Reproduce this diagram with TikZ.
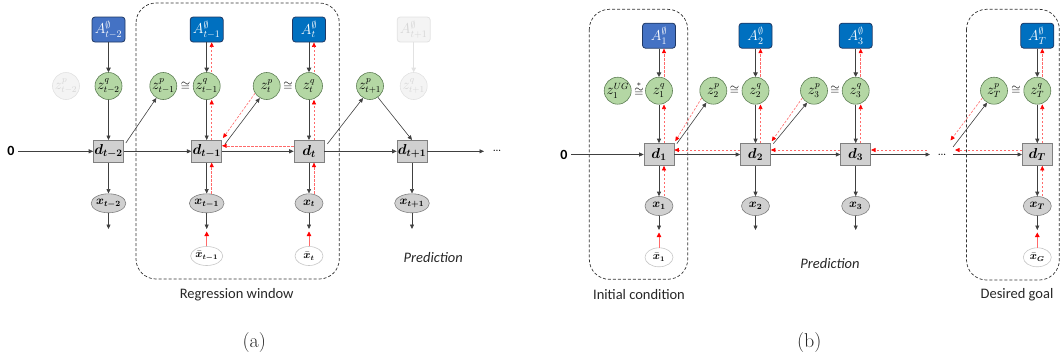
\documentclass[tikz,border=0pt]{standalone}
\usepackage{amsmath,amssymb}
\usepackage{bm}
\usepackage{fontspec}
\newfontfamily\carl{Carlito}
\usetikzlibrary{arrows.meta,shapes.geometric,calc}
\definecolor{ablue}{HTML}{0070C0}
\definecolor{ablueL}{HTML}{4472C4}
\definecolor{aborder}{HTML}{1F3864}
\definecolor{zgreen}{HTML}{B4D7A4}
\definecolor{zborder}{HTML}{5E7F55}
\definecolor{dfill}{HTML}{D0D0D0}
\definecolor{lnk}{HTML}{404040}
\definecolor{fadefill}{HTML}{F4F4F4}
\definecolor{fadeline}{HTML}{E2E2E2}
\definecolor{fadetext}{HTML}{D6D6D6}
\definecolor{redl}{HTML}{FF6A6A}
\begin{document}
\begin{tikzpicture}[x=1pt,y=-1pt,
 abox/.style={rectangle,rounded corners=3pt,minimum width=33pt,minimum height=25pt,inner sep=0pt,draw=aborder,line width=0.8pt,fill=ablue,text=white,font=\fontsize{14.5}{16}\selectfont},
 aboxL/.style={abox,fill=ablueL},
 zc/.style={circle,minimum size=27pt,inner sep=0pt,fill=zgreen,draw=zborder,line width=0.6pt,font=\fontsize{13.5}{15}\selectfont},
 dbox/.style={rectangle,minimum width=30pt,minimum height=22pt,inner sep=0pt,fill=dfill,draw=gray,line width=0.6pt,font=\fontsize{14.5}{16}\selectfont},
 xel/.style={ellipse,minimum width=28pt,minimum height=19pt,inner sep=0pt,fill=dfill,draw=gray,line width=0.6pt,font=\fontsize{11.5}{13}\selectfont},
 xbar/.style={ellipse,minimum width=28pt,minimum height=19pt,inner sep=0pt,fill=white,draw=black!22,line width=0.6pt,font=\fontsize{10.5}{12}\selectfont},
 fadeA/.style={abox,fill=fadefill,draw=fadeline,text=fadetext},
 fadeZ/.style={zc,fill=fadefill,draw=fadeline,text=fadetext},
 eqs/.style={inner sep=0pt,font=\fontsize{12}{14}\selectfont},
 blk/.style={draw=lnk,line width=0.6pt,-{Triangle[length=4.5pt,width=4pt]}},
 blkA/.style={draw=lnk,line width=0.9pt,-{Triangle[length=4.5pt,width=4.5pt]}},
 fadearr/.style={draw=fadeline,line width=0.9pt,-{Triangle[length=4.5pt,width=4.5pt]}},
 rd/.style={draw=redl,line width=0.6pt,dash pattern=on 2.5pt off 1.5pt,-{Triangle[length=4.5pt,width=4pt,fill=red,color=red]}},
 rs/.style={draw=redl,line width=0.8pt,-{Triangle[length=4.5pt,width=4.5pt,fill=red,color=red]}},
 win/.style={draw=black!80,line width=0.7pt,dash pattern=on 3pt off 2pt,rounded corners=20pt},
 lbl/.style={font=\carl\fontsize{14.5}{16}\selectfont,text=black!85},
 lbli/.style={font=\carl\itshape\fontsize{14.5}{16}\selectfont,text=black!85},
 captxt/.style={font=\fontsize{20}{23}\selectfont,text=black!85},
 zero/.style={font=\carl\bfseries\fontsize{14}{16}\selectfont},
 dots/.style={font=\fontsize{16}{18}\selectfont,inner sep=1pt}
]
\useasboundingbox (0,0) rectangle (1061,360);

% ---------------- panel (a) ----------------
\draw[win] (136,3) rectangle (339.3,279);

\node[aboxL] (Atm2) at (108.5,29.5) {$A^{\emptyset}_{t-2}$};
\node[abox] (Atm1) at (206.7,29.5) {$A^{\emptyset}_{t-1}$};
\node[abox] (At) at (309,29.5) {$A^{\emptyset}_{t}$};
\node[fadeA] (At1) at (413.7,29.5) {$A^{\emptyset}_{t+1}$};

\node[fadeZ] (zptm2) at (66,86) {$z^{p}_{t-2}$};
\node[zc] (zqtm2) at (108.5,86) {$z^{q}_{t-2}$};
\node[zc] (zptm1) at (163.3,86) {$z^{p}_{t-1}$};
\node[eqs] (eqa1) at (185.5,86) {$\cong$};
\node[zc] (zqtm1) at (206.7,86) {$z^{q}_{t-1}$};
\node[zc] (zpt) at (266.7,86) {$z^{p}_{t}$};
\node[eqs] (eqa2) at (288,86) {$\cong$};
\node[zc] (zqt) at (309,86) {$z^{q}_{t}$};
\node[zc] (zpt1) at (370,86) {$z^{p}_{t+1}$};
\node[fadeZ] (zqt1) at (413.7,86) {$z^{q}_{t+1}$};

\node[zero] (zeroa) at (11,151.3) {0};
\node[dbox] (dtm2) at (108.5,151.3) {$\bm{d_{t-2}}$};
\node[dbox] (dtm1) at (206.7,151.3) {$\bm{d_{t-1}}$};
\node[dbox] (dt) at (309,151.3) {$\bm{d_{t}}$};
\node[dbox] (dt1) at (412,151.3) {$\bm{d_{t+1}}$};
\coordinate (ea) at (484,151.3);
\node[dots] (dotsa) at (497,151) {\dots};

\node[xel] (xtm2) at (108.5,203.3) {$\bm{x_{t-2}}$};
\node[xel] (xtm1) at (206.7,203.3) {$\bm{x_{t-1}}$};
\node[xel] (xt) at (309,203.3) {$\bm{x_{t}}$};
\node[xel] (xt1) at (412,203.3) {$\bm{x_{t+1}}$};
\coordinate (otm2) at (108.5,229);
\coordinate (otm1) at (206.7,229);
\coordinate (ot) at (309,229);
\coordinate (ot1) at (412,229);
\node[xbar] (xbtm1) at (206.7,256) {$\bm{\bar{x}_{t-1}}$};
\node[xbar] (xbt) at (309,256) {$\bm{\bar{x}_{t}}$};
\coordinate (itm1) at (206.7,231.5);
\coordinate (it) at (309,231.5);

% vertical links (a)
\draw[blkA] (Atm2) -- (zqtm2);
\draw[blk] (zqtm2) -- (dtm2);
\draw[blk] (dtm2) -- (xtm2);
\draw[blk] (xtm2) -- (otm2);
\draw[fadearr] (At1) -- (zqt1);
\foreach \n in {tm1,t}{
  \draw[blkA] (A\n) -- (zq\n);
  \draw[rd] ([xshift=5pt]zq\n.north) -- ([xshift=5pt]A\n.south);
  \draw[blk] (zq\n) -- (d\n);
  \draw[rd] ([xshift=5pt]d\n.north) -- ([xshift=5pt]zq\n.south);
  \draw[blk] (d\n) -- (x\n);
  \draw[rd] ([xshift=5pt]x\n.north) -- ([xshift=5pt]d\n.south);
  \draw[blk] (x\n) -- (o\n);
  \draw[rs] (xb\n) -- (i\n);
}
\draw[blk] (dt1) -- (xt1);
\draw[blk] (xt1) -- (ot1);
% horizontal (a)
\draw[blk] (zeroa) -- (dtm2);
\draw[blk] (dtm2) -- (dtm1);
\draw[blk] (dtm1) -- (dt);
\draw[blk] (dt) -- (dt1);
\draw[blk] (dt1) -- (ea);
\draw[rd] ([yshift=5.5pt]dt.west) -- ([yshift=5.5pt]dtm1.east);
% diagonals (a)
\draw[blk] ($(dtm2.north east)+(2,3)$) -- (zptm1.240);
\draw[blk] ($(dtm1.north east)+(3,4)$) -- (zpt.240);
\draw[rd] (zpt.212) -- ($(dtm1.north east)+(1,-2)$);
\draw[blk] ($(dt.north east)+(3,4)$) -- (zpt1.240);
\draw[blk] (zpt1.-55) -- (dt1.north);

\node[lbl] (rwin) at (236.7,295) {Regression window};
\node[lbli] (preda) at (433.3,257.3) {Prediction};
\node[captxt] (capa) at (254.3,343) {(a)};

% ---------------- panel (b) ----------------
\draw[win] (589.3,9.3) rectangle (687.7,279.3);
\draw[win] (966.5,9.3) rectangle (1059.3,280);

\node[aboxL] (A1) at (659,35.7) {$A^{\emptyset}_{1}$};
\node[abox] (A2) at (755.5,35.7) {$A^{\emptyset}_{2}$};
\node[abox] (A3) at (855.7,35.7) {$A^{\emptyset}_{3}$};
\node[abox] (AT) at (1037.3,35.7) {$A^{\emptyset}_{T}$};

\node[zc] (zug1) at (617.7,90.7) {$z^{UG}_{1}$};
\node[eqs] (eqb1) at (639,89) {$\stackrel{*}{\cong}$};
\node[zc] (zq1) at (659,90.7) {$z^{q}_{1}$};
\node[zc] (zp2) at (713.3,90.7) {$z^{p}_{2}$};
\node[eqs] (eqb2) at (734.5,90.7) {$\cong$};
\node[zc] (zq2) at (755.5,90.7) {$z^{q}_{2}$};
\node[zc] (zp3) at (814,90.7) {$z^{p}_{3}$};
\node[eqs] (eqb3) at (835,90.7) {$\cong$};
\node[zc] (zq3) at (855.7,90.7) {$z^{q}_{3}$};
\node[zc] (zpT) at (994,90.7) {$z^{p}_{T}$};
\node[eqs] (eqb4) at (1016,90.7) {$\cong$};
\node[zc] (zqT) at (1037.3,90.7) {$z^{q}_{T}$};

\node[zero] (zerob) at (564,154.5) {0};
\node[dbox] (d1) at (659,154.5) {$\bm{d_{1}}$};
\node[dbox] (d2) at (755.5,154.5) {$\bm{d_{2}}$};
\node[dbox] (d3) at (855.7,154.5) {$\bm{d_{3}}$};
\node[dbox] (dT) at (1037.3,154.5) {$\bm{d_{T}}$};
\coordinate (eb) at (930,154.5);
\node[dots] (dotsb) at (942,154.5) {\dots};
\coordinate (sb) at (953,154.5);
\coordinate (rb1) at (927,150);
\coordinate (rb2) at (955,150);
\coordinate (bT) at (953,147);
\coordinate (rT) at (950.5,140.5);

\node[xel] (x1) at (659,206) {$\bm{x_{1}}$};
\node[xel] (x2) at (755.5,206) {$\bm{x_{2}}$};
\node[xel] (x3) at (855.7,206) {$\bm{x_{3}}$};
\node[xel] (xT) at (1037.3,206) {$\bm{x_{T}}$};
\coordinate (o1) at (659,230);
\coordinate (o2) at (755.5,230);
\coordinate (o3) at (855.7,230);
\coordinate (oT) at (1037.3,230);
\node[xbar] (xb1) at (659,257.3) {$\bm{\bar{x}_{1}}$};
\node[xbar] (xbT) at (1037.3,257.3) {$\bm{\bar{x}_{G}}$};
\coordinate (i1) at (659,232.5);
\coordinate (iT) at (1037.3,232.5);

% vertical links (b)
\foreach \n in {1,2,3,T}{
  \draw[blkA] (A\n) -- (zq\n);
  \draw[rd] ([xshift=5pt]zq\n.north) -- ([xshift=5pt]A\n.south);
  \draw[blk] (zq\n) -- (d\n);
  \draw[rd] ([xshift=5pt]d\n.north) -- ([xshift=5pt]zq\n.south);
  \draw[blk] (d\n) -- (x\n);
  \draw[blk] (x\n) -- (o\n);
}
\foreach \n in {1,T}{
  \draw[rd] ([xshift=5pt]x\n.north) -- ([xshift=5pt]d\n.south);
  \draw[rs] (xb\n) -- (i\n);
}
% horizontal (b)
\draw[blk] (zerob) -- (d1);
\draw[blk] (d1) -- (d2);
\draw[blk] (d2) -- (d3);
\draw[blk] (d3) -- (eb);
\draw[blk] (sb) -- (dT);
\draw[rd] ([yshift=4.5pt]d2.west) -- ([yshift=4.5pt]d1.east);
\draw[rd] ([yshift=4.5pt]d3.west) -- ([yshift=4.5pt]d2.east);
\draw[rd] (rb1) -- ([yshift=4.5pt]d3.east);
\draw[rd] ([yshift=4.5pt]dT.west) -- (rb2);
% diagonals (b)
\draw[blk] ($(d1.north east)+(2.5,0.5)$) -- (zp2.240);
\draw[rd] (zp2.212) -- ($(d1.north east)+(1,-2)$);
\draw[blk] ($(d2.north east)+(2.5,0.5)$) -- (zp3.240);
\draw[rd] (zp3.212) -- ($(d2.north east)+(1,-2)$);
\draw[blk] (bT) -- (zpT.240);
\draw[rd] (zpT.212) -- (rT);

\node[lbl] (initc) at (639,295) {Initial condition};
\node[lbl] (goal) at (1017,295) {Desired goal};
\node[lbli] (predb) at (830,263.3) {Prediction};
\node[captxt] (capb) at (809.3,343) {(b)};
\end{tikzpicture}
\end{document}
